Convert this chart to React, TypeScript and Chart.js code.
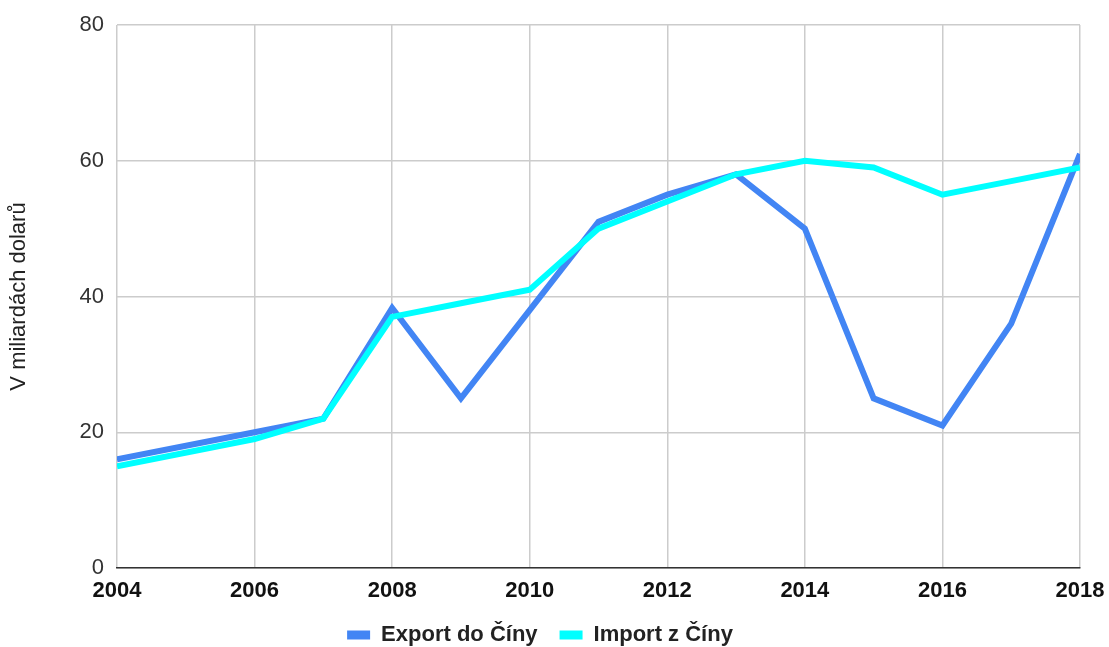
import React, { useEffect, useRef } from "react";
import { Chart, registerables } from "chart.js";

Chart.register(...registerables);

const years = [2004, 2006, 2007, 2008, 2009, 2010, 2011, 2012, 2013, 2014, 2015, 2016, 2017, 2018];
const exportValues = [16, 20, 22, 38.3, 25, 38, 51, 55, 58, 50, 25, 21, 36, 61];
const importValues = [15, 19, 22, 37, 39, 41, 50, 54, 58, 60, 59, 55, 57, 59];
const seriesNames = ["Export do Číny", "Import z Číny"];
const yAxisTitle = "V miliardách dolarů";

const FONT = "'Liberation Sans', Arial, sans-serif";

export default function App() {
  const ref = useRef<HTMLCanvasElement | null>(null);

  useEffect(() => {
    document.body.style.margin = "0";
    const canvas = ref.current;
    if (!canvas) return;
    const baseGen = (Chart.defaults as any).plugins.legend.labels.generateLabels;
    const chart = new Chart(canvas, {
      type: "line",
      data: {
        datasets: [
          {
            label: seriesNames[0],
            data: years.map((x, i) => ({ x, y: exportValues[i] })),
            borderColor: "#4285f4",
            backgroundColor: "#4285f4",
            borderWidth: 6,
            pointRadius: 0,
            order: 1,
          },
          {
            label: seriesNames[1],
            data: years.map((x, i) => ({ x, y: importValues[i] })),
            borderColor: "#00ffff",
            backgroundColor: "#00ffff",
            borderWidth: 6,
            pointRadius: 0,
            order: 0,
          },
        ],
      },
      options: {
        animation: false,
        responsive: false,
        maintainAspectRatio: false,
        layout: { padding: { top: 25, right: 29, left: 0, bottom: 0 } },
        plugins: {
          tooltip: { enabled: false },
          legend: {
            position: "bottom",
            maxHeight: 45,
            labels: {
              font: { family: FONT, size: 22, weight: "bold" },
              color: "#222",
              boxWidth: 23,
              boxHeight: 9,
              padding: 22,
              generateLabels: (c: any) =>
                baseGen(c)
                  .map((l: any) => ({ ...l, lineWidth: 0 }))
                  .sort((a: any, b: any) => a.datasetIndex - b.datasetIndex),
            },
          },
        },
        scales: {
          x: {
            type: "linear",
            min: 2004,
            max: 2018,
            ticks: {
              stepSize: 2,
              callback: (v: any) => String(v),
              font: { family: FONT, size: 22, weight: "bold" },
              color: "#111",
              padding: 10,
              maxRotation: 0,
            },
            grid: { color: "#cccccc", lineWidth: 1.5, drawTicks: false },
            border: { color: "#333", width: 1.5 },
            afterFit: (s: any) => {
              s.height = 34;
              s.paddingRight = 0;
              s.paddingLeft = 0;
            },
          },
          y: {
            min: 0,
            max: 80,
            ticks: {
              stepSize: 20,
              font: { family: FONT, size: 22 },
              color: "#333",
              padding: 13,
            },
            grid: { color: "#cccccc", lineWidth: 1.5, drawTicks: false },
            border: { display: false },
            title: {
              display: true,
              text: yAxisTitle,
              font: { family: FONT, size: 22 },
              color: "#222",
              padding: { top: 6, bottom: 0 },
            },
            afterFit: (s: any) => {
              s.width = 117;
              s.paddingTop = 0;
              s.paddingBottom = 0;
            },
          },
        },
      },
    });
    return () => chart.destroy();
  }, []);

  return (
    <div style={{ width: 1109, height: 647 }}>
      <canvas ref={ref} width={1109} height={647} style={{ width: 1109, height: 647 }} />
    </div>
  );
}
